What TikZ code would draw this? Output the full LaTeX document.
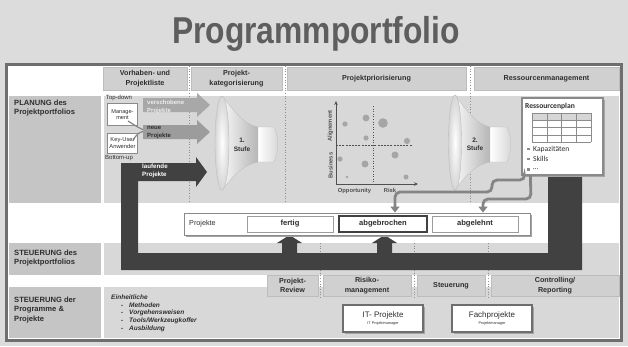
\documentclass[tikz,border=0pt]{standalone}
\usepackage{fontspec}
\usepackage{graphicx}
\setmainfont{Liberation Sans}
\newfontfamily\calfont{Carlito}
\usetikzlibrary{arrows.meta,shadows}

\definecolor{bgc}{HTML}{DCDCDC}
\definecolor{titlec}{HTML}{5E5E5E}
\definecolor{framec}{HTML}{6E6E6E}
\definecolor{labelc}{HTML}{C5C5C5}
\definecolor{areac}{HTML}{D8D8D8}
\definecolor{cellc}{HTML}{D0D0D0}
\definecolor{cellln}{HTML}{BDBDBD}
\definecolor{shadc}{HTML}{A4A4A4}
\definecolor{txtc}{HTML}{2E2E2E}
\definecolor{darkc}{HTML}{414141}
\definecolor{arrA}{HTML}{A8A8A8}
\definecolor{arrB}{HTML}{9C9C9C}
\definecolor{linec}{HTML}{858585}
\definecolor{dotc}{HTML}{8E8E8E}
\definecolor{ptc}{HTML}{A6A6A6}
\definecolor{boxln}{HTML}{8A8A8A}
\definecolor{gridc}{HTML}{8C8C8C}
\definecolor{gridhead}{HTML}{D6D6D6}
\definecolor{funA}{HTML}{F7F7F7}
\definecolor{funB}{HTML}{B6B6B6}
\definecolor{axisc}{HTML}{505050}

\tikzset{
  lbltxt/.style={anchor=north west, inner sep=0pt, align=left, text=txtc,
    font=\bfseries\fontsize{7.6}{9.4}\selectfont},
  hcell/.style={fill=cellc, draw=cellln, line width=0.4pt, inner sep=0pt,
    text=txtc, align=center, font=\bfseries\fontsize{7.2}{9.4}\selectfont,
    drop shadow={shadow xshift=1.3pt, shadow yshift=-1.3pt, fill=shadc, opacity=1}},
  wbox/.style={fill=white, draw=boxln, line width=0.6pt, inner sep=0pt,
    align=center, text=txtc},
  shbox/.style={drop shadow={shadow xshift=1.5pt, shadow yshift=-1.5pt, fill=shadc, opacity=1}},
  stbox/.style={fill=white, draw=arrB, line width=1pt, inner sep=0pt,
    minimum height=16pt, text=txtc, font=\bfseries\fontsize{7.6}{8}\selectfont},
  sepline/.style={dotc, line width=0.7pt, dotted},
  gline/.style={linec, line width=2.8pt, rounded corners=5pt,
    -{Triangle[width=9pt,length=6pt]}},
  smalltxt/.style={inner sep=0pt, text=txtc, font=\fontsize{6}{7}\selectfont},
  arrtxt/.style={anchor=north west, inner sep=0pt, align=left,
    font=\bfseries\fontsize{6}{8}\selectfont},
  axlbl/.style={inner sep=0pt, text=axisc, font=\bfseries\fontsize{5.8}{6}\selectfont},
  stufe/.style={inner sep=0pt, align=center, text=txtc,
    font=\bfseries\fontsize{6.5}{8.5}\selectfont},
  rptxt/.style={anchor=west, inner sep=0pt, text=txtc,
    font=\calfont\fontsize{7.6}{8}\selectfont},
  pt/.style={fill=ptc}
}

\begin{document}
\begin{tikzpicture}[x=1pt,y=-1pt]
\useasboundingbox (0,0) rectangle (628,346);
\fill[bgc] (0,0) rectangle (628,346);

% title
\node[font=\bfseries\fontsize{37.4}{40}\selectfont, text=titlec, anchor=base, inner sep=0pt]
  (title) at (316,43) {\scalebox{0.85}[1]{Programmportfolio}};

% frame
\draw[framec, line width=3pt, fill=white] (6.5,64.5) rectangle (621.5,340.5);

% rows
\fill[areac] (104,96) rectangle (619,203);
\fill[labelc] (9,96) rectangle (101,203);
\fill[areac] (104,243) rectangle (619,275);
\fill[labelc] (9,243) rectangle (101,275);
\fill[areac] (104,287) rectangle (619,338);
\fill[labelc] (9,287) rectangle (101,338);

\node[lbltxt] (lplan) at (14,99.5) {PLANUNG des\\Projektportfolios};
\node[lbltxt] (lsteu1) at (14,249.5) {STEUERUNG des\\Projektportfolios};
\node[lbltxt] (lsteu2) at (14,296.5) {STEUERUNG der\\Programme \&\\Projekte};

% column separators
\draw[sepline] (189,66) -- (189,203);
\draw[sepline] (285,66) -- (285,203);
\draw[sepline] (470,66) -- (470,203);
\draw[sepline] (320,243) -- (320,298);
\draw[sepline] (414,243) -- (414,298);
\draw[sepline] (488,243) -- (488,298);

% header cells
\node[hcell, minimum width=84pt, minimum height=23pt] (h1) at (145,78.5) {Vorhaben- und\\Projektliste};
\node[hcell, minimum width=91pt, minimum height=23pt] (h2) at (236.5,78.5) {Projekt-\\kategorisierung};
\node[hcell, minimum width=179pt, minimum height=23pt] (h3) at (376.5,78.5) {Projektpriorisierung};
\node[hcell, minimum width=145pt, minimum height=23pt] (h4) at (546.5,78.5) {Ressourcenmanagement};

% bottom cells
\node[hcell, minimum width=51pt, minimum height=21pt] (b1) at (292.5,285.5) {Projekt-\\Review};
\node[hcell, minimum width=88pt, minimum height=21pt] (b2) at (367,285.5) {Risiko-\\management};
\node[hcell, minimum width=68pt, minimum height=21pt] (b3) at (451,285.5) {Steuerung};
\node[hcell, minimum width=128pt, minimum height=21pt] (b4) at (555,285.5) {Controlling/\\Reporting};

% sources
\node[smalltxt] (td) at (119,98) {Top-down};
\node[smalltxt] (bu) at (119,158.5) {Bottom-up};
\node[wbox, minimum width=30pt, minimum height=22pt, font=\fontsize{5.6}{6.6}\selectfont] (mgmt) at (122.5,114.5) {Manage-\\ment};
\node[wbox, minimum width=30pt, minimum height=20pt, font=\fontsize{5.8}{7}\selectfont] (keyu) at (122.5,143) {Key-User\\Anwender};
\draw[linec, line width=1.2pt] (128,121) .. controls (136,126) and (140,129) .. (147,131);
\draw[linec, line width=1.2pt] (133,141) .. controls (136,134) and (140,131) .. (147,131);

% incoming project arrows
\fill[arrA] (143,98) -- (197,98) -- (197,93) -- (210,105) -- (197,117) -- (197,112) -- (143,112) -- cycle;
\node[arrtxt, text=white!93!black] (versch) at (147,99.5) {verschobene\\Projekte};
\fill[arrB] (143,125) -- (197,125) -- (197,120) -- (210,132) -- (197,144) -- (197,139) -- (143,139) -- cycle;
\node[arrtxt, text=txtc] (neu) at (147,126.5) {neue\\Projekte};

% funnel 1
\shadedraw[draw=cellln, line width=0.3pt, left color=funA, right color=funB]
  (222,96) .. controls (236,114) and (246,125) .. (258,127) -- (258,162)
  .. controls (246,164) and (236,172) .. (222,190) -- cycle;
\shadedraw[draw=cellln, line width=0.3pt, left color=white, right color=gridhead]
  (258,127) -- (274,127) .. controls (279,138) and (279,151) .. (274,162) -- (258,162) -- cycle;
\shadedraw[draw=cellln, line width=0.4pt, inner color=white, outer color=gridhead]
  (222,143) ellipse [x radius=7pt, y radius=47pt];
\node[stufe] (st1) at (242,145) {1.\\Stufe};

% funnel 2
\shadedraw[draw=cellln, line width=0.3pt, left color=funA, right color=funB]
  (455,95) .. controls (468,113) and (478,125) .. (490,127) -- (490,162)
  .. controls (478,164) and (468,172) .. (455,190) -- cycle;
\shadedraw[draw=cellln, line width=0.3pt, left color=white, right color=gridhead]
  (490,127) -- (507,127) .. controls (512,138) and (512,151) .. (507,162) -- (490,162) -- cycle;
\shadedraw[draw=cellln, line width=0.4pt, inner color=white, outer color=gridhead]
  (455,142.5) ellipse [x radius=6.5pt, y radius=47.5pt];
\node[stufe] (st2) at (475,144.5) {2.\\Stufe};

% portfolio matrix
\draw[axisc, line width=0.7pt, -{Stealth[length=4pt,width=3.5pt]}] (336,184) -- (336,101);
\draw[axisc, line width=0.7pt, -{Stealth[length=4pt,width=3.5pt]}] (336,184) -- (418,184);
\draw[axisc, line width=0.6pt, dashed, dash pattern=on 2pt off 1.2pt] (336,145) -- (412,145);
\draw[axisc, line width=0.6pt, dotted] (373,106) -- (373,184);
\node[axlbl, rotate=90] (yal) at (330.5,126) {Alignement};
\node[axlbl, rotate=90] (ybu) at (330.5,165.5) {Business};
\node[axlbl] (xop) at (354.5,190.5) {Opportunity};
\node[axlbl] (xri) at (390,190.5) {Risk};
\fill[pt] (345,124) circle [radius=2.6pt];
\fill[pt] (366,118) circle [radius=3.4pt];
\fill[pt] (383,123) circle [radius=4.8pt];
\fill[pt] (366,138) circle [radius=2.6pt];
\fill[pt] (407,141) circle [radius=3.1pt];
\fill[pt] (340,159) circle [radius=2.6pt];
\fill[pt] (395,155) circle [radius=3.5pt];
\fill[pt] (365,164) circle [radius=3.5pt];
\fill[pt] (347,177) circle [radius=1.3pt];
\fill[pt] (406,177) circle [radius=2.5pt];

% running projects loop
\fill[darkc] (121,163) -- (196,163) -- (196,157) -- (207,172) -- (196,187) -- (196,181)
  -- (138,181) -- (138,253) -- (548,253) -- (548,170) -- (582,170) -- (582,270)
  -- (121,270) -- cycle;
\node[arrtxt, text=white, font=\bfseries\fontsize{6.2}{8}\selectfont] (lauf) at (142,163.5) {laufende\\Projekte};
\fill[darkc] (282,253) -- (282,243) -- (277,243) -- (289.5,235) -- (302,243) -- (297,243) -- (297,253) -- cycle;
\fill[darkc] (377,253) -- (377,243) -- (372,243) -- (384.5,235) -- (397,243) -- (392,243) -- (392,253) -- cycle;

% project status
\node[wbox, shbox, line width=0.9pt, minimum width=346pt, minimum height=22pt] (proj) at (357,224) {};
\node[anchor=west, inner sep=0pt, text=txtc, font=\fontsize{7.2}{8}\selectfont] (projlbl) at (189,223.5) {Projekte};
\node[stbox, minimum width=86pt] (fertig) at (290,224) {fertig};
\node[stbox, draw=darkc, line width=1.6pt, minimum width=88pt] (abgebr) at (383,224) {abgebrochen};
\node[stbox, minimum width=86pt] (abgel) at (475,224) {abgelehnt};

% resource plan
\node[wbox, shbox, line width=1.3pt, minimum width=81pt, minimum height=77pt] (rp) at (562.5,136.5) {};
\node[rptxt, font=\calfont\bfseries\fontsize{7.6}{8}\selectfont] (rptitle) at (525,106) {Ressourcenplan};
\fill[gridhead] (532,113) rectangle (591,120.25);
\foreach \i in {0,...,4} \draw[gridc, line width=0.5pt] ({532+14.75*\i},113) -- ({532+14.75*\i},142);
\foreach \j in {0,...,4} \draw[gridc, line width=0.5pt] (532,{113+7.25*\j}) -- (591,{113+7.25*\j});
\fill[gridc] (527.2,147.8) rectangle (529.7,150.3);
\fill[gridc] (527.2,157.8) rectangle (529.7,160.3);
\fill[gridc] (527.2,168.3) rectangle (529.7,170.8);
\node[rptxt] (rpk) at (533,149) {Kapazitäten};
\node[rptxt] (rps) at (533,159) {Skills};
\node[rptxt] (rpe) at (533,169) {…};

% resource feedback
\coordinate (rpA) at ([xshift=3pt]rp.south west);
\coordinate (rpB) at ([xshift=9pt]rp.south west);
\coordinate (inA) at ([xshift=12pt]abgebr.north);
\coordinate (inB) at ([xshift=8pt]abgel.north);
\draw[gline] (rpA) -- (525,180) -- (492,180) -- (492,192) -- (395,192) -- (inA |- proj.north);
\draw[gline] (rpB) -- (531,199) -- (483,199) -- (inB |- proj.north);

% program and project level
\node[anchor=north west, inner sep=0pt, align=left, text=txtc,
  font=\bfseries\itshape\fontsize{6.5}{7.7}\selectfont] (einh) at (111,294.5)
  {Einheitliche\\
   \hspace*{10pt}\makebox[8pt][l]{-}Methoden\\
   \hspace*{10pt}\makebox[8pt][l]{-}Vorgehensweisen\\
   \hspace*{10pt}\makebox[8pt][l]{-}Tools/Werkzeugkoffer\\
   \hspace*{10pt}\makebox[8pt][l]{-}Ausbildung};
\node[wbox, shbox, draw=framec, line width=1.2pt, minimum width=80pt, minimum height=27pt] (itp) at (383,318.5) {};
\node[inner sep=0pt, text=txtc, font=\fontsize{8}{8}\selectfont] (itpa) at (383,315) {IT- Projekte};
\node[inner sep=0pt, text=txtc, font=\fontsize{3.8}{4}\selectfont] (itpb) at (383,323.5) {IT Projektmanager};
\node[wbox, shbox, draw=framec, line width=1.2pt, minimum width=80pt, minimum height=27pt] (fap) at (492,318.5) {};
\node[inner sep=0pt, text=txtc, font=\fontsize{8}{8}\selectfont] (fapa) at (492,315) {Fachprojekte};
\node[inner sep=0pt, text=txtc, font=\fontsize{3.8}{4}\selectfont] (fapb) at (492,323.5) {Projektmanager};
\end{tikzpicture}
\end{document}
